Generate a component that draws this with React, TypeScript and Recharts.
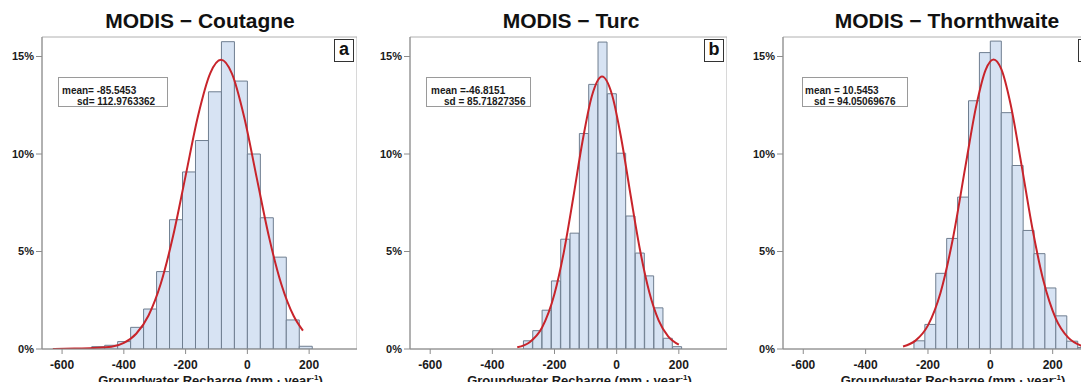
import React from 'react';
import { ComposedChart, Bar, Line, XAxis, YAxis, ReferenceArea } from 'recharts';

// histogram bin centres (mm/year) and share of cells (%)
const coutagneBins = [-483, -441, -399, -357, -315, -273, -231, -189, -147, -105, -63, -21, 21, 63, 105, 147, 189];
const coutagnePct = [0.12, 0.19, 0.38, 1.11, 2.05, 3.97, 6.63, 9.08, 10.69, 13.19, 15.76, 13.74, 10.0, 6.73, 4.71, 1.49, 0.14];
const coutagneCurveX = [-630, -560, -500, -440, -400, -360, -320, -280, -240, -200, -160, -120, -85, -50, -10, 30, 70, 110, 150, 180];
const coutagneCurveY = [0.0, 0.02, 0.05, 0.11, 0.31, 0.78, 1.72, 3.37, 5.83, 8.88, 11.94, 14.15, 14.83, 14.12, 11.87, 8.8, 5.75, 3.32, 1.69, 0.94];

const turcBins = [-285, -255, -225, -195, -165, -135, -105, -75, -45, -15, 15, 45, 75, 105, 135, 165, 195];
const turcPct = [0.42, 0.94, 1.99, 3.49, 5.63, 5.94, 11.05, 13.57, 15.74, 13.09, 10.04, 6.82, 4.92, 3.75, 2.11, 0.55, 0.12];
const turcCurveX = [-320, -280, -240, -200, -170, -140, -110, -80, -47, -15, 15, 45, 75, 105, 135, 165, 200];
const turcCurveY = [0.09, 0.35, 1.1, 2.83, 4.97, 7.73, 10.64, 12.96, 13.97, 13.04, 10.77, 7.87, 5.09, 2.91, 1.47, 0.66, 0.22];

const thornBins = [-227.5, -192.5, -157.5, -122.5, -87.5, -52.5, -17.5, 17.5, 52.5, 87.5, 122.5, 157.5, 192.5, 227.5, 262.5, 297.5];
const thornPct = [0.42, 1.26, 3.88, 5.67, 7.79, 12.73, 15.2, 15.79, 12.12, 9.41, 6.08, 4.89, 3.13, 1.7, 0.4, 0.08];
const thornCurveX = [-280, -240, -200, -160, -120, -80, -45, -15, 10.5, 35, 65, 100, 135, 170, 210, 250, 290, 330];
const thornCurveY = [0.13, 0.43, 1.21, 2.87, 5.67, 9.35, 12.48, 14.32, 14.85, 14.36, 12.55, 9.44, 6.18, 3.52, 1.56, 0.58, 0.18, 0.05];

const xTicks = [-600, -400, -200, 0, 200];
const yTicks = [0, 5, 10, 15];
const xDomain = [-665, 355];
const yDomain = [0, 16];

const FONT = '"Liberation Sans", Arial, sans-serif';

const panels = [
  {
    id: 'a', title: 'MODIS − Coutagne', bins: coutagneBins, pct: coutagnePct, cx: coutagneCurveX, cy: coutagneCurveY,
    line1: 'mean= -85.5453', line2: 'sd= 112.9763362',
    chartLeft: 0, plotWidth: 315, titleX: 200,
    box: { left: 58, width: 110, l1: 3, l2: 18 },
  },
  {
    id: 'b', title: 'MODIS − Turc', bins: turcBins, pct: turcPct, cx: turcCurveX, cy: turcCurveY,
    line1: 'mean =-46.8151', line2: 'sd = 85.71827356',
    chartLeft: 368, plotWidth: 317, titleX: 571,
    box: { left: 426, width: 105, l1: 4, l2: 17 },
  },
  {
    id: 'c', title: 'MODIS − Thornthwaite', bins: thornBins, pct: thornPct, cx: thornCurveX, cy: thornCurveY,
    line1: 'mean = 10.5453', line2: 'sd = 94.05069676',
    chartLeft: 741, plotWidth: 318, titleX: 947,
    box: { left: 802, width: 106, l1: 2, l2: 11 },
  },
];

const AxisTitle = (props: any) => {
  const { viewBox } = props;
  const cx = viewBox.x + viewBox.width / 2 + 11;
  return (
    <text x={cx} y={385} textAnchor="middle" fontFamily={FONT} fontSize={13} fontWeight="bold" fill="#1a1a1a">
      Groundwater Recharge (mm · year
      <tspan fontSize={8} dy={-5}>-1</tspan>
      <tspan dy={5}>)</tspan>
    </text>
  );
};

function Panel({ p }: { p: (typeof panels)[number] }) {
  const barData = p.bins.map((x, i) => ({ x, pct: p.pct[i] }));
  const curveData = p.cx.map((x, i) => ({ x, y: p.cy[i] }));
  const width = 42 + p.plotWidth;
  return (
    <>
      <div
        style={{
          position: 'absolute', left: p.titleX - 150, width: 300, top: 8, textAlign: 'center',
          fontFamily: FONT, fontWeight: 'bold', fontSize: 21, color: '#111', lineHeight: '26px',
        }}
      >
        {p.title}
      </div>
      <div style={{ position: 'absolute', left: p.chartLeft, top: 0 }}>
        <ComposedChart
          width={width}
          height={390}
          data={barData}
          margin={{ top: 37, right: 0, bottom: 0, left: 0 }}
          barCategoryGap={0}
          barGap={0}
        >
          <XAxis
            xAxisId="main"
            dataKey="x"
            type="number"
            domain={xDomain}
            ticks={xTicks}
            allowDataOverflow
            height={41}
            tickSize={5}
            tickMargin={6}
            axisLine={{ stroke: '#8c8c8c' }}
            tickLine={{ stroke: '#8c8c8c' }}
            tick={{ fill: '#1a1a1a', fontSize: 12, fontWeight: 'bold', fontFamily: FONT }}
            label={<AxisTitle />}
          />
          <XAxis xAxisId="curve" dataKey="x" type="number" domain={xDomain} allowDataOverflow orientation="top" height={0} hide />
          <YAxis
            type="number"
            domain={yDomain}
            ticks={yTicks}
            allowDataOverflow
            width={42}
            tickSize={6}
            tickMargin={2}
            tickFormatter={(v) => `${v}%`}
            axisLine={{ stroke: '#8c8c8c' }}
            tickLine={{ stroke: '#8c8c8c' }}
            tick={{ fill: '#1a1a1a', fontSize: 11, fontWeight: 'bold', fontFamily: FONT }}
          />
          <ReferenceArea xAxisId="main" x1={xDomain[0]} x2={xDomain[1]} y1={0} y2={16} fill="none" stroke="#b0b0b0" ifOverflow="extendDomain" />
          <Bar xAxisId="main" dataKey="pct" fill="#d7e3f3" stroke="#6f7e90" strokeWidth={1} isAnimationActive={false} />
          <Line
            xAxisId="curve"
            data={curveData}
            dataKey="y"
            type="monotone"
            stroke="#c8242b"
            strokeWidth={2}
            dot={false}
            isAnimationActive={false}
          />
        </ComposedChart>
      </div>
      <div
        style={{
          position: 'absolute', left: p.box.left, top: 77, width: p.box.width, height: 30,
          border: '1px solid #9a9a9a', background: '#fff', boxSizing: 'border-box',
          fontFamily: FONT, fontWeight: 'bold', fontSize: 10, color: '#1a1a1a', lineHeight: '11px',
        }}
      >
        <div style={{ position: 'absolute', left: p.box.l1, top: 7, whiteSpace: 'nowrap' }}>{p.line1}</div>
        <div style={{ position: 'absolute', left: p.box.l2, top: 18, whiteSpace: 'nowrap' }}>{p.line2}</div>
      </div>
      <div
        style={{
          position: 'absolute', left: p.chartLeft + width - 23, top: 39, width: 20, height: 23,
          border: '1.5px solid #333', background: '#fff', boxSizing: 'border-box',
          fontFamily: FONT, fontWeight: 'bold', fontSize: 18, color: '#111', textAlign: 'center', lineHeight: '19px',
        }}
      >
        {p.id}
      </div>
    </>
  );
}

export default function App() {
  return (
    <div style={{ position: 'relative', width: 1089, height: 390, overflow: 'hidden', margin: -8, background: '#fff' }}>
      {panels.map((p) => (
        <Panel key={p.id} p={p} />
      ))}
    </div>
  );
}
